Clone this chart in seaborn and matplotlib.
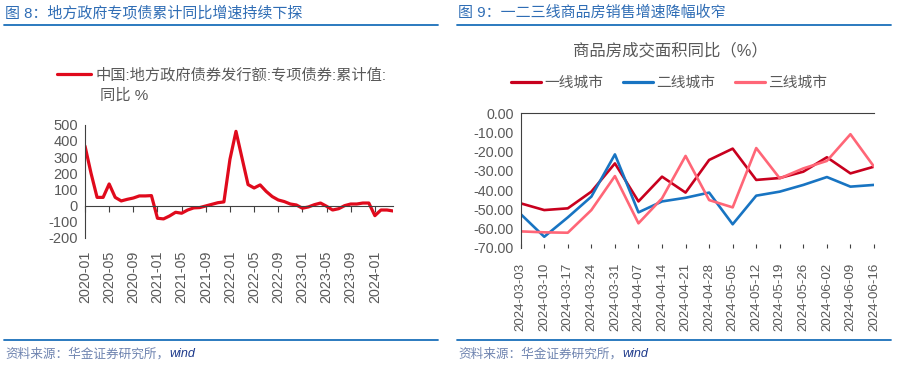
import matplotlib
matplotlib.use("Agg")
import matplotlib.pyplot as plt
from matplotlib.lines import Line2D
import numpy as np
import pandas as pd
import seaborn as sns

sns.set_theme(style="white")
plt.rcParams['font.family'] = ['Liberation Sans', 'Noto Sans CJK SC', 'DejaVu Sans']
plt.rcParams['axes.unicode_minus'] = False

# ---------------- data ----------------
left_title = "图 8：地方政府专项债累计同比增速持续下探"
right_title = "图 9：一二三线商品房销售增速降幅收窄"
left_months = pd.date_range("2020-01-01", periods=52, freq="MS").strftime("%Y-%m").tolist()
left_values = [368, 200, 51, 51, 134, 51, 29, 39, 47, 60, 60, 62,
               -78, -82, -64, -41, -47, -27, -14, -12, -2, 8, 18, 23,
               286, 459, 294, 130, 109, 128, 88, 56, 35, 25, 10, 4,
               -16, -8, 6, 16, -4, -27, -19, 0, 10, 10, 16, 16,
               -62, -27, -27, -33]
left_legend_line1 = "中国:地方政府债券发行额:专项债券:累计值:"
left_legend_line2 = "同比 %"

weeks = ["2024-03-03", "2024-03-10", "2024-03-17", "2024-03-24", "2024-03-31",
         "2024-04-07", "2024-04-14", "2024-04-21", "2024-04-28", "2024-05-05",
         "2024-05-12", "2024-05-19", "2024-05-26", "2024-06-02", "2024-06-09",
         "2024-06-16"]
tier1 = [-46.9, -50.4, -49.5, -40.8, -26.1, -45.9, -33.0, -41.3, -24.3, -18.4,
         -34.7, -33.7, -30.4, -22.9, -31.3, -27.8]
tier2 = [-52.5, -64.3, -54.2, -43.4, -21.4, -51.6, -45.9, -44.0, -41.3, -57.8,
         -42.9, -40.8, -37.3, -33.2, -38.2, -37.3]
tier3 = [-61.5, -62.0, -62.2, -50.4, -32.7, -57.3, -44.3, -22.2, -45.2, -49.0,
         -18.1, -33.9, -28.7, -24.8, -10.9, -27.8]
series_names = ["一线城市", "二线城市", "三线城市"]
right_chart_title = "商品房成交面积同比（%）"
source_text = "资料来源：华金证券研究所，"
source_wind = "wind"

# ---------------- styling ----------------
W, H = 909, 369
fig = plt.figure(figsize=(W / 100, H / 100), dpi=100)
fig.patch.set_facecolor("white")

def fx(px):
    return px / W

def fy(py):
    return 1 - py / H

GRAY = "#595959"
AX = "#404040"
TITLE_BLUE = "#2F6DB5"
LINE_BLUE = "#1A6FBA"

# titles and rules
fig.text(fx(5), fy(13), left_title, color=TITLE_BLUE, fontsize=10.8, va="center", ha="left")
fig.text(fx(458), fy(13), right_title, color=TITLE_BLUE, fontsize=10.8, va="center", ha="left")
for x0, x1 in [(4, 438), (457, 891)]:
    fig.add_artist(Line2D([fx(x0), fx(x1)], [fy(25), fy(25)], color=LINE_BLUE, lw=1.3))
    fig.add_artist(Line2D([fx(x0), fx(x1)], [fy(340), fy(340)], color=LINE_BLUE, lw=1.3))

# ---------------- left chart ----------------
axL = fig.add_axes([fx(85), fy(238), fx(393 - 85), (238 - 124.7) / H])
dfL = pd.DataFrame({"idx": np.arange(len(left_values)), "val": left_values})
sns.lineplot(data=dfL, x="idx", y="val", ax=axL, color="#E00A1C", lw=2.3,
             label=left_legend_line1, legend=False)
axL.set_xlim(0, len(left_values) - 1)
axL.set_ylim(-200, 500)
axL.set_yticks(np.arange(-200, 501, 100))
axL.set_yticklabels([str(v) for v in range(-200, 501, 100)], color=GRAY, fontsize=10.5)
axL.tick_params(axis="y", direction="out", length=3, width=0.8, color=AX, pad=2)
for s in ["top", "right"]:
    axL.spines[s].set_visible(False)
axL.spines["left"].set_color(AX)
axL.spines["left"].set_linewidth(0.8)
axL.spines["bottom"].set_position(("data", 0))
axL.spines["bottom"].set_color(AX)
axL.spines["bottom"].set_linewidth(0.8)
tickposL = list(range(0, len(left_values), 4))
axL.set_xticks(tickposL)
axL.set_xticklabels([])
axL.tick_params(axis="x", direction="out", length=4, width=0.8, color=AX)
axL.set_xlabel("")
axL.set_ylabel("")
axL.patch.set_alpha(0)
axL2 = axL.twiny()
axL2.set_xlim(axL.get_xlim())
axL2.xaxis.set_ticks_position("bottom")
axL2.set_xticks(tickposL)
axL2.set_xticklabels([left_months[i] for i in tickposL], rotation=90, color=GRAY, fontsize=10.3)
axL2.tick_params(axis="x", length=0, pad=9)
for s in axL2.spines.values():
    s.set_visible(False)

fig.legend(handles=[Line2D([], [], color="#E00A1C", lw=2.3)], labels=[left_legend_line1],
           loc="center left", bbox_to_anchor=(fx(57), fy(75)), frameon=False,
           fontsize=11, handlelength=2.2, handletextpad=0.35, labelcolor=GRAY,
           borderaxespad=0, borderpad=0)
fig.text(fx(100), fy(96), left_legend_line2, color=GRAY, fontsize=11, va="center", ha="left")

# ---------------- right chart ----------------
axR = fig.add_axes([fx(520.7), fy(247.7), fx(874 - 520.7), (247.7 - 113.3) / H])
dfR = pd.DataFrame({"idx": np.arange(len(weeks)).tolist() * 3,
                    "val": tier1 + tier2 + tier3,
                    "series": sum([[n] * len(weeks) for n in series_names], [])})
palette = {"一线城市": "#C8001E", "二线城市": "#1874C2", "三线城市": "#FF6677"}
sns.lineplot(data=dfR, x="idx", y="val", hue="series", palette=palette, ax=axR,
             lw=1.9, legend=False)
axR.set_xlim(0, len(weeks) - 1)
axR.set_ylim(-70, 0)
yt = np.arange(-70, 1, 10)
axR.set_yticks(yt)
axR.set_yticklabels([f"{v:.2f}" for v in yt], color=GRAY, fontsize=10.3)
axR.tick_params(axis="y", direction="out", length=3, width=0.8, color=AX, pad=2)
for s in ["bottom", "right"]:
    axR.spines[s].set_visible(False)
axR.spines["left"].set_color(AX)
axR.spines["left"].set_linewidth(0.8)
axR.spines["top"].set_color(AX)
axR.spines["top"].set_linewidth(0.8)
axR.xaxis.set_ticks_position("top")
axR.set_xticks(range(len(weeks)))
axR.set_xticklabels([])
axR.tick_params(axis="x", direction="in", length=3, width=0.8, color=AX)
axR.set_xlabel("")
axR.set_ylabel("")
axR.patch.set_alpha(0)
axR2 = axR.twiny()
axR2.set_xlim(axR.get_xlim())
axR2.xaxis.set_ticks_position("bottom")
axR2.set_xticks(range(len(weeks)))
axR2.set_xticklabels(weeks, rotation=90, color=GRAY, fontsize=9.6)
axR2.tick_params(axis="x", length=0, pad=11)
for s in axR2.spines.values():
    s.set_visible(False)

fig.text(fx(670), fy(50), right_chart_title, color=GRAY, fontsize=11.8, ha="center", va="center")
handles = [Line2D([], [], color=palette[n], lw=2.3) for n in series_names]
fig.legend(handles=handles, labels=series_names, loc="center", bbox_to_anchor=(fx(669), fy(83)),
           ncol=3, frameon=False, fontsize=10.6, handlelength=2.1, handletextpad=0.2,
           columnspacing=1.3, labelcolor=GRAY, borderaxespad=0, borderpad=0)

# ---------------- sources ----------------
fig.canvas.draw()
r = fig.canvas.get_renderer()
for x0 in [5, 458]:
    t = fig.text(fx(x0), fy(354), source_text, color="#6F84B0", fontsize=9.1,
                 style="italic", va="center", ha="left")
    bb = t.get_window_extent(renderer=r)
    fig.text(bb.x1 / W, fy(354), source_wind, color="#1F3B8C", fontsize=9.1,
             style="italic", va="center", ha="left")

fig.savefig("out.png", dpi=100, facecolor="white")
